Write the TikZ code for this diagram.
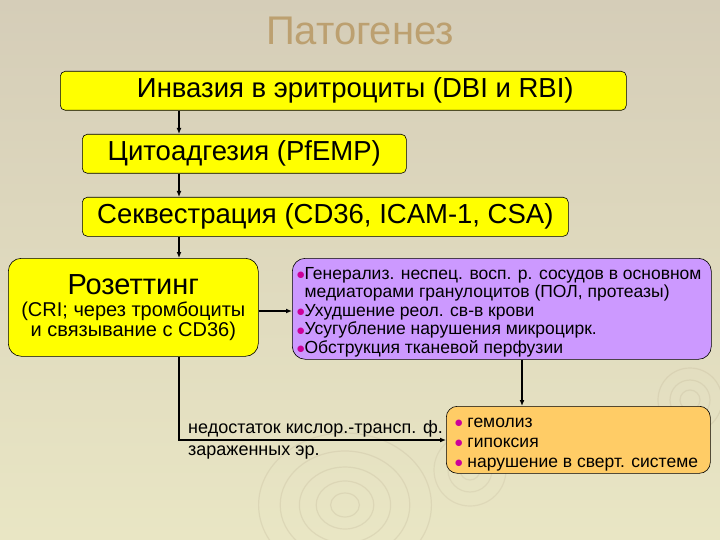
\documentclass[tikz,border=0pt]{standalone}
\usepackage{fontspec}
\setmainfont{Liberation Sans}
\newfontfamily\symf{DejaVu Sans}
\usetikzlibrary{arrows.meta}
\definecolor{bgtop}{RGB}{213,205,184}
\definecolor{bgbot}{RGB}{233,230,196}
\definecolor{titlec}{RGB}{188,160,112}
\definecolor{yel}{RGB}{255,255,0}
\definecolor{purp}{RGB}{204,153,255}
\definecolor{oran}{RGB}{255,204,102}
\definecolor{bulc}{RGB}{204,0,153}
\definecolor{ripple}{RGB}{200,190,160}
\newcommand{\bdot}{\raisebox{1.5pt}{\symf\fontsize{8.5}{8.5}\selectfont\textcolor{bulc}{●}}}
\begin{document}
\begin{tikzpicture}[x=1pt,y=-1pt,
  box/.style={draw=black, line width=0.6pt, anchor=north west, inner sep=0pt, align=center},
  txt/.style={inner sep=0pt, align=left},
  arr/.style={-{Latex[length=6pt,width=5pt]}, line width=1.3pt}]
\shade[top color=bgtop, bottom color=bgbot] (0,0) rectangle (720,540);
\useasboundingbox (0,0) rectangle (720,540);
% faint ripples
\foreach \r in {12,24,38,54,72}{\draw[ripple, opacity=0.35, line width=1.2pt] (345,505) ellipse ({\r*1.2} and \r);}
\foreach \r in {10,20,32}{\draw[ripple, opacity=0.35, line width=1.2pt] (690,400) circle (\r);}
\foreach \r in {10,22,36}{\draw[ripple, opacity=0.3, line width=1.2pt] (470,470) circle (\r);}

\node[text=titlec, font=\fontsize{40}{44}\selectfont] (title) at (360,31) {Патогенез};

\node[box, fill=yel, rounded corners=5pt, minimum width=566pt, minimum height=39pt,
  font=\fontsize{27.5}{30}\selectfont] (b1) at (60,71) {\hspace*{24pt}Инвазия в эритроциты (DBI и RBI)};
\node[box, fill=yel, rounded corners=5pt, minimum width=324pt, minimum height=39pt,
  font=\fontsize{27.5}{30}\selectfont] (b2) at (82,134) {Цитоадгезия (PfEMP)};
\node[box, fill=yel, rounded corners=5pt, minimum width=486pt, minimum height=39pt,
  font=\fontsize{27.5}{30}\selectfont] (b3) at (82,197) {Секвестрация (CD36, ICAM-1, CSA)};
\node[box, fill=yel, rounded corners=13pt, minimum width=250pt, minimum height=98pt,
  font=\fontsize{20}{19.5}\selectfont] (b4) at (8,258)
  {{\fontsize{29}{30}\selectfont Розеттинг}\\[3pt]
   (CRI; через тромбоциты\\ и связывание с CD36)};

\node[box, fill=purp, rounded corners=13pt, minimum width=419pt, minimum height=101pt] (pu) at (292,258) {};
\node[txt, anchor=west, font=\fontsize{17.5}{18.5}\selectfont] (putxt) at (297,312)
  {\bdot Генерализ. неспец. восп. р. сосудов в основном\\
   \phantom{\bdot}медиаторами гранулоцитов (ПОЛ, протеазы)\\
   \bdot Ухудшение реол. св-в крови\\
   \bdot Усугубление нарушения микроцирк.\\
   \bdot Обструкция тканевой перфузии};

\node[box, fill=oran, rounded corners=11pt, minimum width=264pt, minimum height=67pt] (or) at (446,406) {};
\node[txt, anchor=west, font=\fontsize{17.5}{20}\selectfont] (ortxt) at (455,444.5)
  {\bdot\ гемолиз\\
   \bdot\ гипоксия\\
   \bdot\ нарушение в сверт. системе};

\node[txt, anchor=north west, font=\fontsize{18}{22}\selectfont] (lbl) at (188,420)
  {недостаток кислор.-трансп. ф.\\ зараженных эр.};

\coordinate (ax) at (179,0);
\coordinate (ay) at (0,311);
\coordinate (px) at (522,0);
\coordinate (ly) at (0,440);
\draw[arr] (b1.south -| ax) -- (b2.north -| ax);
\draw[arr] (b2.south -| ax) -- (b3.north -| ax);
\draw[arr] (b3.south -| ax) -- (b4.north -| ax);
\draw[arr] (b4.east |- ay) -- (pu.west |- ay);
\draw[arr] (pu.south -| px) -- (or.north -| px);
\draw[arr] (b4.south -| ax) -- (ax |- ly) -- (or.west |- ly);
\end{tikzpicture}
\end{document}
